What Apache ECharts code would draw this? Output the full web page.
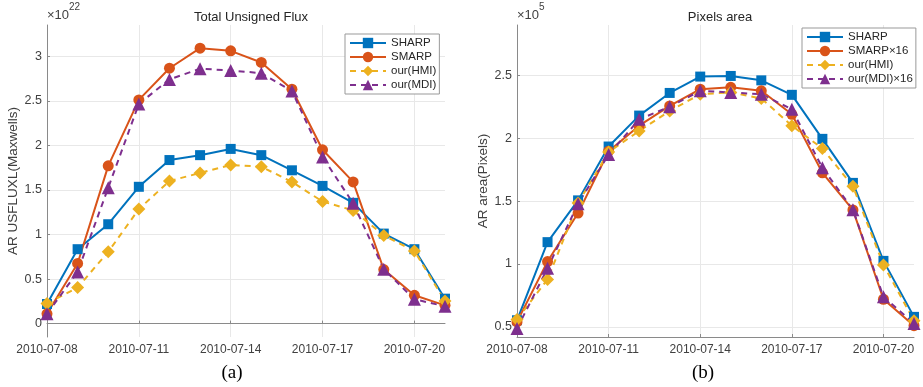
<!DOCTYPE html>
<html>
<head>
<meta charset="utf-8">
<script src="https://cdn.jsdelivr.net/npm/echarts@6/dist/echarts.min.js"></script>
<style>
html,body{margin:0;padding:0;background:#fff;}
#main{width:923px;height:387px;}
</style>
</head>
<body>
<div id="main"></div>
<script>
const dates = ['2010-07-08','2010-07-09','2010-07-10','2010-07-11','2010-07-12','2010-07-13','2010-07-14','2010-07-15','2010-07-16','2010-07-17','2010-07-18','2010-07-19','2010-07-20','2010-07-21'];

// Total unsigned flux (x 1e22 Maxwells)
const fluxSHARP = [0.22, 0.835, 1.115, 1.535, 1.835, 1.89, 1.96, 1.89, 1.72, 1.545, 1.355, 1.01, 0.835, 0.28];
const fluxSMARP = [0.11, 0.675, 1.77, 2.51, 2.865, 3.09, 3.06, 2.93, 2.63, 1.95, 1.59, 0.607, 0.318, 0.205];
const fluxHMI   = [0.225, 0.405, 0.805, 1.285, 1.6, 1.69, 1.78, 1.76, 1.59, 1.37, 1.27, 0.99, 0.815, 0.255];
const fluxMDI   = [0.11, 0.58, 1.525, 2.465, 2.74, 2.86, 2.84, 2.81, 2.61, 1.87, 1.35, 0.61, 0.273, 0.195];

// Pixels area (x 1e5 pixels)
const areaSHARP = [0.553, 1.174, 1.506, 1.934, 2.18, 2.36, 2.49, 2.495, 2.46, 2.345, 1.995, 1.645, 1.025, 0.58];
const areaSMARP = [0.54, 1.02, 1.405, 1.897, 2.1, 2.257, 2.39, 2.405, 2.377, 2.19, 1.725, 1.43, 0.72, 0.51];
const areaHMI   = [0.56, 0.878, 1.485, 1.89, 2.057, 2.217, 2.35, 2.364, 2.316, 2.1, 1.918, 1.618, 0.993, 0.55];
const areaMDI   = [0.487, 0.966, 1.48, 1.87, 2.15, 2.25, 2.377, 2.364, 2.35, 2.23, 1.765, 1.432, 0.74, 0.527];

const fluxTicks = [0, 0.5, 1, 1.5, 2, 2.5, 3];
const areaTicks = [0.5, 1, 1.5, 2, 2.5];

const leftNames = ['SHARP','SMARP','our(HMI)','our(MDI)'];
const rightNames = ['SHARP','SMARP×16','our(HMI)','our(MDI)×16'];

const C = {blue:'#0072BD', orange:'#D95319', yellow:'#EDB120', purple:'#7E2F8E'};
const FONT = '"Liberation Sans", Arial, sans-serif';
const gridColor = '#e8e8e8';
const axisColor = '#8a8a8a';
const labelColor = '#404040';

function xAxis(gi){
  return {
    type:'category', gridIndex:gi, data:dates, boundaryGap:false,
    axisLine:{show:true, lineStyle:{color:axisColor, width:1}},
    axisTick:{show:true, inside:true, length:3, interval:2, lineStyle:{color:axisColor}},
    axisLabel:{interval:2, color:labelColor, fontSize:12, fontFamily:FONT, margin:7},
    splitLine:{show:true, interval:2, lineStyle:{color:gridColor, width:1}}
  };
}
function yAxis(gi, min, max, ticks, name, gap){
  return {
    type:'value', gridIndex:gi, min:min, max:max,
    name:name, nameLocation:'middle', nameGap:gap,
    nameTextStyle:{color:labelColor, fontSize:13.5, fontFamily:FONT},
    axisLine:{show:true, lineStyle:{color:axisColor, width:1}},
    axisTick:{show:true, inside:true, length:3, customValues:ticks, lineStyle:{color:axisColor}},
    axisLabel:{color:labelColor, fontSize:12.5, fontFamily:FONT, margin:5, customValues:ticks,
      formatter:function(v){return String(+v.toFixed(2));}},
    splitLine:{show:true, lineStyle:{color:gridColor, width:1}}
  };
}
function s(name, data, gi, color, symbol, size, dashed){
  return {
    name:name, type:'line', xAxisIndex:gi, yAxisIndex:gi, data:data,
    symbol:symbol, symbolSize:size, showAllSymbol:true,
    lineStyle:{color:color, width:2, type: dashed ? [6,5] : 'solid'},
    itemStyle:{color:color},
    emphasis:{disabled:true}, animation:false
  };
}
function legend(names, left, top){
  return {
    data:names, orient:'vertical', left:left, top:top,
    itemWidth:36, itemHeight:13, itemGap:2,
    backgroundColor:'#fff', borderColor:'#999', borderWidth:1,
    padding:[3,3,3,4],
    textStyle:{color:'#262626', fontSize:11.5, fontFamily:FONT},
    selectedMode:false
  };
}

const chart = echarts.init(document.getElementById('main'), null, {renderer:'canvas'});
chart.setOption({
  backgroundColor:'#fff',
  animation:false,
  title:[
    {text:'Total Unsigned Flux', left:246, top:6, textAlign:'center',
      textStyle:{fontSize:13, fontWeight:'normal', color:'#262626', fontFamily:FONT}},
    {text:'Pixels area', left:715, top:6, textAlign:'center',
      textStyle:{fontSize:13, fontWeight:'normal', color:'#262626', fontFamily:FONT}}
  ],
  grid:[
    {left:47, top:25, width:398, height:312},
    {left:517, top:25, width:397, height:312}
  ],
  xAxis:[xAxis(0), xAxis(1)],
  yAxis:[
    yAxis(0, -0.15, 3.35, fluxTicks, 'AR USFLUXL(Maxwells)', 22),
    yAxis(1, 0.42, 2.9, areaTicks, 'AR area(Pixels)', 24)
  ],
  legend:[legend(leftNames, 345, 34), legend(rightNames, 802, 28)],
  series:[
    s('SHARP', fluxSHARP, 0, C.blue, 'rect', 10, false),
    s('SMARP', fluxSMARP, 0, C.orange, 'circle', 11, false),
    s('our(HMI)', fluxHMI, 0, C.yellow, 'diamond', 13, true),
    s('our(MDI)', fluxMDI, 0, C.purple, 'triangle', 13, true),
    s('SHARP', areaSHARP, 1, C.blue, 'rect', 10, false),
    s('SMARP×16', areaSMARP, 1, C.orange, 'circle', 11, false),
    s('our(HMI)', areaHMI, 1, C.yellow, 'diamond', 13, true),
    s('our(MDI)×16', areaMDI, 1, C.purple, 'triangle', 13, true)
  ],
  graphic:[
    {type:'text', left:47, top:2, style:{
      text:'{a|×10}{b|22}', fill:'#404040',
      rich:{a:{fontSize:13, fontFamily:FONT, fill:'#404040', verticalAlign:'bottom', padding:[7,0,0,0]},
            b:{fontSize:10, fontFamily:FONT, fill:'#404040', verticalAlign:'top'}}
    }},
    {type:'text', left:517, top:2, style:{
      text:'{a|×10}{b|5}', fill:'#404040',
      rich:{a:{fontSize:13, fontFamily:FONT, fill:'#404040', verticalAlign:'bottom', padding:[7,0,0,0]},
            b:{fontSize:10, fontFamily:FONT, fill:'#404040', verticalAlign:'top'}}
    }},
    {type:'text', x:232, y:373, style:{text:'(a)', fill:'#000', fontSize:19,
      fontFamily:'"Liberation Serif", "Times New Roman", serif', align:'center', verticalAlign:'middle'}},
    {type:'text', x:703, y:373, style:{text:'(b)', fill:'#000', fontSize:19,
      fontFamily:'"Liberation Serif", "Times New Roman", serif', align:'center', verticalAlign:'middle'}}
  ]
});
</script>
</body>
</html>
